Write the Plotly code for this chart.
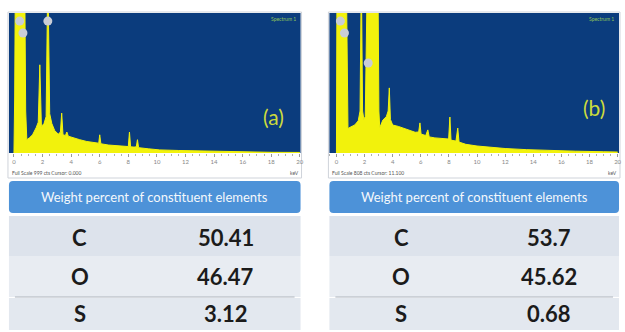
import plotly.graph_objects as go

W, H = 625, 332

# --- EDS spectra (energy in keV, counts) ---
energy_a = [0.00, 0.05, 0.10, 0.75, 0.82, 0.90, 1.10, 1.30, 1.55, 1.70, 1.81, 1.92, 2.10, 2.25,
            2.37, 2.50, 2.65, 2.85, 3.10, 3.25, 3.34, 3.43, 3.60, 3.70, 3.80, 4.20, 4.60, 5.10,
            5.60, 5.93, 6.00, 6.08, 6.60, 7.10, 7.60, 8.00, 8.08, 8.16, 8.40, 8.56, 8.64, 8.72,
            9.40, 10.2, 11.5, 13.0, 14.5, 16.4, 18.0, 20.0]
counts_a = [0, 400, 1300, 1300, 300, 95, 110, 130, 180, 220, 630, 190, 210, 260,
            1300, 280, 210, 160, 135, 150, 285, 130, 125, 150, 120, 105, 95, 82,
            72, 70, 130, 66, 57, 52, 48, 46, 150, 44, 42, 44, 95, 38,
            30, 22, 18, 14, 11, 7, 5, 4]

energy_b = [0.00, 0.04, 0.70, 0.76, 0.82, 1.00, 1.30, 1.55, 1.68, 1.77, 1.86, 1.95, 2.05, 2.20,
            2.95, 3.02, 3.08, 3.30, 3.55, 3.68, 3.76, 3.84, 4.00, 4.40, 4.80, 5.20, 5.60, 5.85,
            5.94, 6.02, 6.35, 6.50, 6.60, 7.00, 7.50, 7.98, 8.07, 8.15, 8.50, 8.63, 8.72, 9.20,
            10.0, 11.0, 12.0, 13.5, 15.0, 17.0, 19.0, 20.0]
counts_b = [0, 1300, 1300, 300, 175, 185, 200, 230, 300, 1300, 300, 240, 260, 1300,
            1300, 300, 180, 235, 260, 300, 465, 240, 200, 190, 175, 162, 148, 150,
            215, 135, 125, 165, 115, 108, 102, 100, 257, 92, 85, 178, 78, 62,
            50, 40, 32, 24, 18, 13, 9, 7]

# element markers placed on the peaks
marker_e_a = [0.40, 0.63, 2.37]
marker_c_a = [942, 857, 942]
marker_e_b = [0.28, 0.57, 2.26]
marker_c_b = [942, 857, 643]

tick_values = [0, 2, 4, 6, 8, 10, 12, 14, 16, 18, 20]

# --- weight percent table ---
elements = ["C", "O", "S"]
weight_a = [50.41, 46.47, 3.12]
weight_b = [53.7, 45.62, 0.68]

header_text = "Weight percent of constituent elements"
panel_labels = ["(a)", "(b)"]
scale_notes = ["Full Scale 999 cts Cursor: 0.000", "Full Scale 808 cts Cursor: 11.100"]

BLUE = "#0b3c7d"
YELLOW = "#f2f20c"
HEADER = "#4d92d8"


def px(x):
    return x / W


def py(y):
    return 1 - y / H


def rounded_rect(x0, y0, x1, y1, r):
    # pixel-space rounded rectangle converted to a paper-space SVG path
    pts = (f"M {px(x0 + r)},{py(y0)} L {px(x1 - r)},{py(y0)} "
           f"Q {px(x1)},{py(y0)} {px(x1)},{py(y0 + r)} L {px(x1)},{py(y1 - r)} "
           f"Q {px(x1)},{py(y1)} {px(x1 - r)},{py(y1)} L {px(x0 + r)},{py(y1)} "
           f"Q {px(x0)},{py(y1)} {px(x0)},{py(y1 - r)} L {px(x0)},{py(y0 + r)} "
           f"Q {px(x0)},{py(y0)} {px(x0 + r)},{py(y0)} Z")
    return pts


fig = go.Figure()

panels = [
    dict(x0=9, x1=302, xr=[-0.35, 20.05], e=energy_a, c=counts_a, me=marker_e_a, mc=marker_c_a,
         ax="x", ay="y", lab=(275, 116), el_x=80, val_x=227, w=weight_a),
    dict(x0=331, x1=622, xr=[-0.5, 20.1], e=energy_b, c=counts_b, me=marker_e_b, mc=marker_c_b,
         ax="x2", ay="y2", lab=(597, 107), el_x=403, val_x=552, w=weight_b),
]

shapes = []
annotations = []
row_centers = [237, 276, 313]
row_bands = [(216, 256, "#dde3ec"), (256, 297, "#e8ecf2"), (298, 330, "#e3e8ef")]

for i, p in enumerate(panels):
    fig.add_trace(go.Scatter(
        x=p["e"], y=p["c"], mode="lines", fill="tozeroy",
        line=dict(color=YELLOW, width=1), fillcolor=YELLOW,
        xaxis=p["ax"], yaxis=p["ay"], showlegend=False, hoverinfo="skip"))
    fig.add_trace(go.Scatter(
        x=p["me"], y=p["mc"], mode="markers",
        marker=dict(size=9, color="#c9cdd6", line=dict(width=0)),
        xaxis=p["ax"], yaxis=p["ay"], showlegend=False, hoverinfo="skip"))

    # frame around spectrum window
    shapes.append(dict(type="rect", xref="paper", yref="paper",
                       x0=px(p["x0"] - 1), x1=px(p["x1"] + 1), y0=py(178), y1=py(12),
                       line=dict(color="#cfd3da", width=1), fillcolor="rgba(0,0,0,0)", layer="below"))
    # header bar
    shapes.append(dict(type="path", xref="paper", yref="paper",
                       path=rounded_rect(p["x0"], 181, p["x1"], 213, 4),
                       line=dict(width=0), fillcolor=HEADER))
    # table rows
    for (t, b, col) in row_bands:
        shapes.append(dict(type="rect", xref="paper", yref="paper",
                           x0=px(p["x0"]), x1=px(p["x1"]), y0=py(b), y1=py(t),
                           line=dict(width=0), fillcolor=col, layer="below"))
    shapes.append(dict(type="line", xref="paper", yref="paper",
                       x0=px(p["x0"] + 6), x1=px(p["x1"] - 6), y0=py(297), y1=py(297),
                       line=dict(color="#aeb4bd", width=1)))

    annotations.append(dict(text=header_text, xref="paper", yref="paper",
                            x=px((p["x0"] + p["x1"]) / 2), y=py(197), showarrow=False,
                            font=dict(family="Lato", size=13, color="#f4f8fc"),
                            xanchor="center", yanchor="middle"))
    annotations.append(dict(text=panel_labels[i], xref="paper", yref="paper",
                            x=px(p["lab"][0]), y=py(p["lab"][1]), showarrow=False,
                            font=dict(family="Lato", size=21, color="#cddb3c"),
                            xanchor="center", yanchor="middle"))
    annotations.append(dict(text="Spectrum 1", xref="paper", yref="paper",
                            x=px(p["x1"] - 3), y=py(19), showarrow=False,
                            font=dict(family="Lato", size=5, color="#8fc45a"),
                            xanchor="right", yanchor="middle"))
    annotations.append(dict(text=scale_notes[i], xref="paper", yref="paper",
                            x=px(p["x0"] + 1), y=py(173), showarrow=False,
                            font=dict(family="Lato", size=5, color="#555"),
                            xanchor="left", yanchor="middle"))
    annotations.append(dict(text="keV", xref="paper", yref="paper",
                            x=px(p["x1"]), y=py(173), showarrow=False,
                            font=dict(family="Lato", size=5, color="#555"),
                            xanchor="right", yanchor="middle"))

    for el, val, yc in zip(elements, p["w"], row_centers):
        annotations.append(dict(text="<b>%s</b>" % el, xref="paper", yref="paper",
                                x=px(p["el_x"]), y=py(yc), showarrow=False,
                                font=dict(family="Lato", size=22, color="#1b1b1b"),
                                xanchor="center", yanchor="middle"))
        annotations.append(dict(text="<b>%s</b>" % val, xref="paper", yref="paper",
                                x=px(p["val_x"]), y=py(yc), showarrow=False,
                                font=dict(family="Lato", size=22, color="#1b1b1b"),
                                xanchor="center", yanchor="middle"))

xaxis_common = dict(showgrid=False, zeroline=False, showline=False,
                    tickvals=tick_values, ticks="outside", ticklen=3, tickcolor="#9a9a9a",
                    tickfont=dict(family="Lato", size=6, color="#888"),
                    minor=dict(dtick=0.5, ticks="outside", ticklen=2, tickcolor="#b0b0b0"),
                    fixedrange=True)
yaxis_common = dict(showgrid=False, zeroline=False, showline=False, showticklabels=False,
                    range=[0, 1000], fixedrange=True)

fig.update_layout(
    width=W, height=H, margin=dict(l=0, r=0, t=0, b=0),
    paper_bgcolor="white", plot_bgcolor=BLUE,
    xaxis=dict(domain=[px(9), px(302)], range=panels[0]["xr"], anchor="y", **xaxis_common),
    yaxis=dict(domain=[py(153), py(13)], anchor="x", **yaxis_common),
    xaxis2=dict(domain=[px(331), px(622)], range=panels[1]["xr"], anchor="y2", **xaxis_common),
    yaxis2=dict(domain=[py(153), py(13)], anchor="x2", **yaxis_common),
    shapes=shapes, annotations=annotations,
)

fig.write_html("out.html")
